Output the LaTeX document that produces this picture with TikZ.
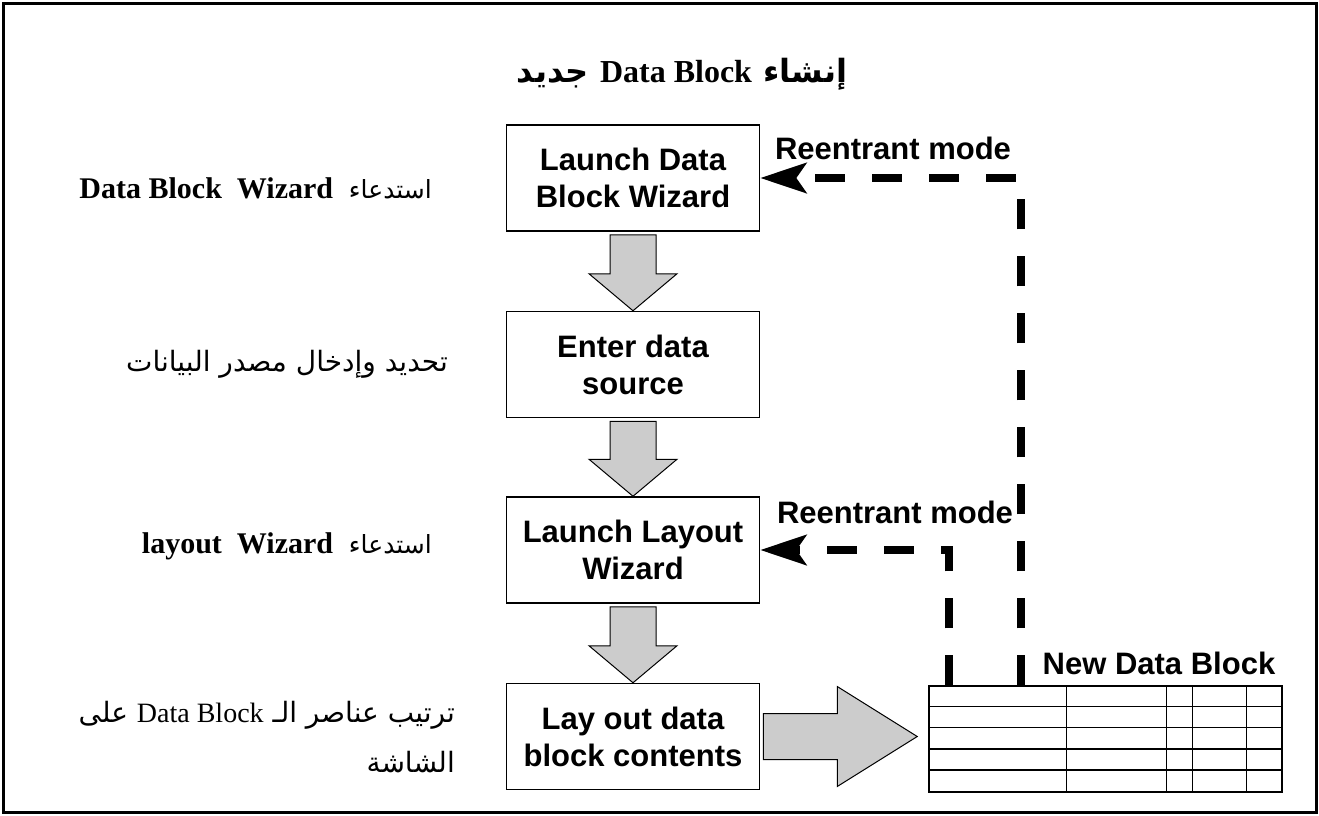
\documentclass[tikz,border=0pt]{standalone}
\usepackage{fontspec}
\setmainfont{Liberation Serif}
\newfontfamily\arialfont{Liberation Sans}
\newfontfamily\arabicfont[Script=Arabic]{DejaVu Sans}
\TeXXeTstate=1
\usetikzlibrary{arrows.meta,positioning,calc}

\begin{document}
\begin{tikzpicture}[x=1pt,y=-1pt,node distance=79pt,
  stepbox/.style={draw,line width=1.5pt,minimum width=253pt,minimum height=106pt,inner sep=0pt,align=center,font=\arialfont\bfseries\fontsize{31}{37}\selectfont},
  tag/.style={inner sep=0pt,font=\arialfont\bfseries\fontsize{31}{37}\selectfont},
  side/.style={anchor=east,align=right,inner sep=0pt,font=\arabicfont\fontsize{25}{50}\selectfont},
  loop/.style={line width=8pt,dash pattern=on 30pt off 27pt,-{Stealth[length=46pt,width=30pt,inset=10pt]}},
  fat/.style={draw,line width=1pt,fill=black!20}]
\useasboundingbox (0,0) rectangle (1319,815);
\draw[line width=3pt] (3,3) rectangle (1316,812);

\node (ttl) at (682,74) {\arabicfont\bfseries\fontsize{32}{38}\selectfont\beginR إنشاء \beginL{\rmfamily Data Block}\endL{} جديد\endR};

% steps
\node[stepbox] (ldw) at (633,178) {Launch Data\\Block Wizard};
\node[stepbox,below=of ldw] (eds) {Enter data\\source};
\node[stepbox,below=78pt of eds] (llw) {Launch Layout\\Wizard};
\node[stepbox,below=of llw] (lod) {Lay out data\\block contents};

% left notes
\node[side] (s1) at (432,188) {\beginR استدعاء\ \ \beginL{\rmfamily\bfseries\fontsize{30}{34}\selectfont Data Block\ \ Wizard}\endL\endR};
\node[side,font=\arabicfont\fontsize{28}{34}\selectfont] (s2) at (448,364) {\beginR تحديد وإدخال مصدر البيانات\endR};
\node[side] (s3) at (432,546) {\beginR استدعاء\ \ \beginL{\rmfamily\bfseries\fontsize{30}{34}\selectfont layout\ \ Wizard}\endL\endR};
\node[side,font=\arabicfont\fontsize{28}{50}\selectfont] (s4) at (455,737) {\beginR ترتيب عناصر الـ \beginL{\rmfamily Data Block}\endL{} على\endR\\\beginR الشاشة\endR};

% new data block
\node[draw,line width=1.5pt,minimum width=353pt,minimum height=106pt,inner sep=0pt] (ndb) at (1105.5,739) {};
\foreach \r in {1,...,4}
  \draw[line width=1.5pt] ($(ndb.north west)+(0,21.2*\r)$) -- ($(ndb.north east)+(0,21.2*\r)$);
\foreach \c in {138,238,264,318}
  \draw[line width=1.5pt] ($(ndb.north west)+(\c,0)$) -- ($(ndb.south west)+(\c,0)$);
\node[tag] (ndbl) at (1159,663) {New Data Block};

% block arrows
\foreach \a/\b in {ldw/eds,eds/llw,llw/lod}
  \draw[fat] ($(\a.south)+(-23,3)$) -- ($(\a.south)+(23,3)$) -- ($(\b.north)+(23,-37)$) -- ($(\b.north)+(44,-37)$)
    -- (\b.north) -- ($(\b.north)+(-44,-37)$) -- ($(\b.north)+(-23,-37)$) -- cycle;
\coordinate (tip) at ($(lod.east -| ndb.west)+(-11,0)$);
\draw[fat] ($(lod.east)+(3,-23)$) -- ($(tip)+(-80,-23)$) -- ($(tip)+(-80,-50)$) -- (tip)
  -- ($(tip)+(-80,50)$) -- ($(tip)+(-80,23)$) -- ($(lod.east)+(3,23)$) -- cycle;

% reentrant loops
\node[tag] (re1) at (893,148) {Reentrant mode};
\node[tag] (re2) at (895,512) {Reentrant mode};
\draw[loop] ($(ndb.north west)+(93,0)$) |- (ldw.east);
\draw[loop] ($(ndb.north west)+(21,0)$) |- (llw.east);
\end{tikzpicture}
\end{document}
